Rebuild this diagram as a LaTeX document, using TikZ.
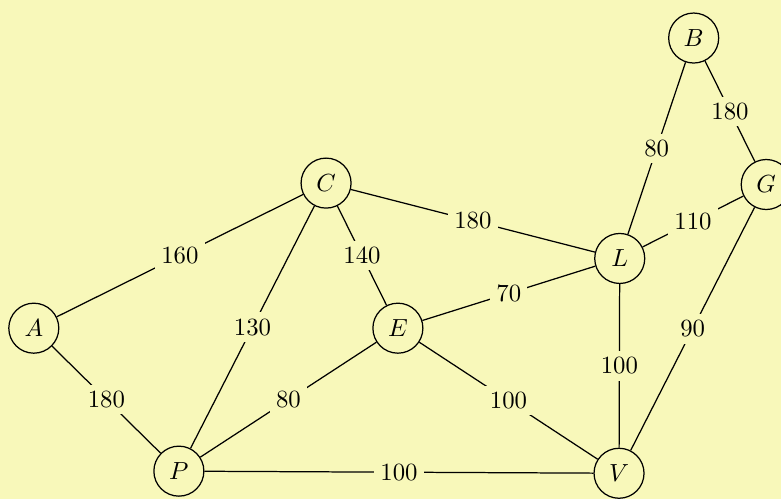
\documentclass[tikz,border=0pt]{standalone}
\usepackage{amsmath,amssymb}
\usepackage{xcolor}
\usetikzlibrary{positioning, calc}
\definecolor{paper}{RGB}{248,248,186}

\begin{document}
\begin{tikzpicture}
    \tikzset{vertex/.style={draw,circle,minimum size=0.71cm,inner sep=0,line width=0.5pt,fill=paper}}
    \tikzset{weight/.style={midway,fill=paper,inner sep=2.5pt}}
    \def\W{11.09}
    \def\H{7.09}

    \fill[paper] (0,0) rectangle (\W,\H);
    \useasboundingbox (0,0) rectangle (\W,\H);

    \node[vertex] (B) at (9.85,6.55) {$B$};
    \node[vertex] (G) at (10.88,4.47) {$G$};
    \node[vertex] (C) at (4.63,4.49) {$C$};
    \node[vertex] (L) at (8.80,3.42) {$L$};
    \node[vertex] (A) at (0.48,2.43) {$A$};
    \node[vertex] (E) at (5.65,2.43) {$E$};
    \node[vertex] (P) at (2.54,0.40) {$P$};
    \node[vertex] (V) at (8.79,0.37) {$V$};

    \draw[line width=0.5pt] (B) -- node[weight] {80} (L);
    \draw[line width=0.5pt] (B) -- node[weight] {180} (G);
    \draw[line width=0.5pt] (C) -- node[weight] {180} (L);
    \draw[line width=0.5pt] (L) -- node[weight] {110} (G);
    \draw[line width=0.5pt] (A) -- node[weight] {160} (C);
    \draw[line width=0.5pt] (C) -- node[weight] {140} (E);
    \draw[line width=0.5pt] (C) -- node[weight] {130} (P);
    \draw[line width=0.5pt] (E) -- node[weight] {70} (L);
    \draw[line width=0.5pt] (G) -- node[weight] {90} (V);
    \draw[line width=0.5pt] (L) -- node[weight] {100} (V);
    \draw[line width=0.5pt] (A) -- node[weight] {180} (P);
    \draw[line width=0.5pt] (E) -- node[weight] {80} (P);
    \draw[line width=0.5pt] (E) -- node[weight] {100} (V);
    \draw[line width=0.5pt] (P) -- node[weight] {100} (V);
\end{tikzpicture}
\end{document}
